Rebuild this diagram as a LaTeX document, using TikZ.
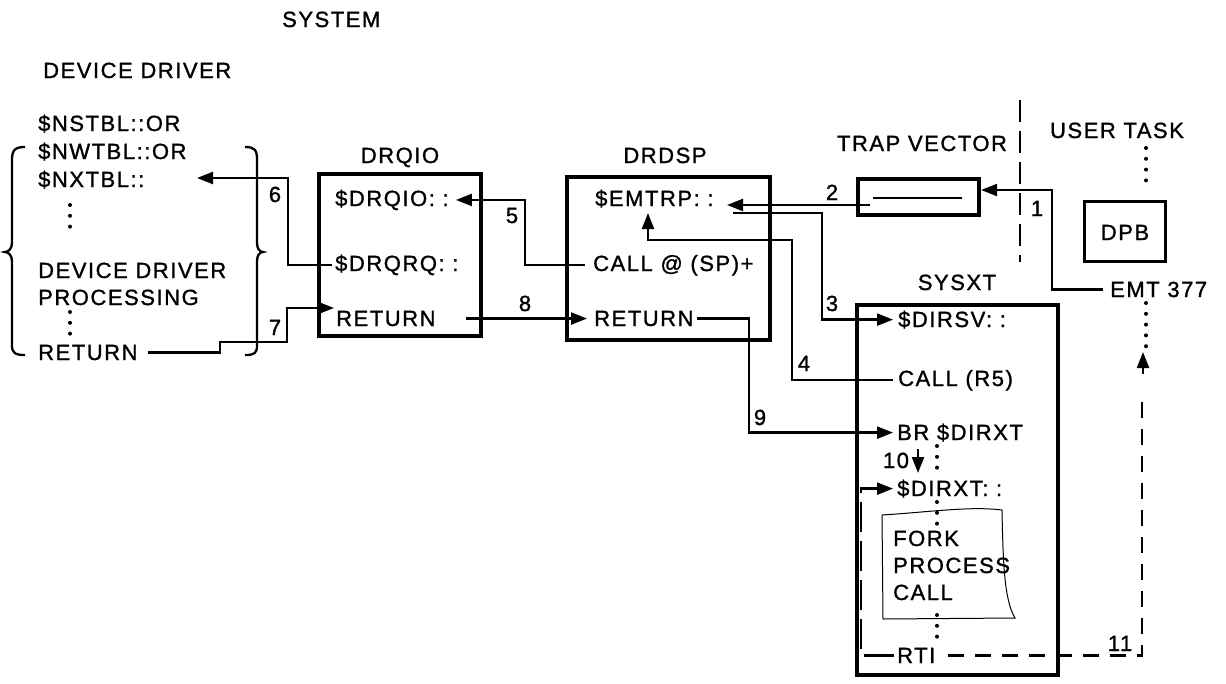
\documentclass[tikz,border=0pt]{standalone}
\usepackage{fontspec}
\setmainfont{Liberation Sans}[LetterSpace=7, FakeBold=1.2]
\usetikzlibrary{arrows.meta}
\begin{document}
\begin{tikzpicture}[x=1pt,y=-1pt,
  every node/.append style={font=\fontsize{22}{26}\selectfont, inner sep=0pt},
  txt/.style={anchor=base west},
  lbl/.style={anchor=base},
  box/.style={draw, line width=3.8pt},
  con/.style={line width=2.3pt},
  arr/.style={con, -{Triangle[length=16pt,width=12pt]}},
  dots/.style={line width=4pt, line cap=round, dash pattern=on 0pt off 10.8pt},
  bound/.style={line width=2.5pt, dash pattern=on 22pt off 9pt},
  dash11/.style={line width=2.3pt, dash pattern=on 16pt off 11pt},
  dashloop/.style={line width=2.3pt, dash pattern=on 30pt off 9pt},
]
\useasboundingbox (0,0) rectangle (1226,683);

% titles
\node[txt] (system) at (282,27) {SYSTEM};
\node[txt] (ddtitle) at (43,78) {DEVICE DRIVER};

% device driver column
\node[txt] (nstbl) at (38,131) {\$NSTBL::OR};
\node[txt] (nwtbl) at (38,159) {\$NWTBL::OR};
\node[txt] (nxtbl) at (38,187) {\$NXTBL::};
\node[txt] (ddp1) at (38,278) {DEVICE DRIVER};
\node[txt] (ddp2) at (38,305) {PROCESSING};
\node[txt] (ret1) at (38,360) {RETURN};
\draw[dots] (70,205) -- (70,237);
\draw[dots] (70,312) -- (70,334);
% braces
\draw[con] (25,147) .. controls (15,147) and (12,150) .. (12,160) -- (12,243)
  .. controls (12,249) and (8,252) .. (5,252) .. controls (8,252) and (12,255) .. (12,261)
  -- (12,345) .. controls (12,353) and (15,355) .. (25,355);
\draw[con] (245,147) .. controls (255,147) and (257,150) .. (257,160) -- (257,243)
  .. controls (257,249) and (260,252) .. (263,252) .. controls (260,252) and (257,255) .. (257,261)
  -- (257,345) .. controls (257,353) and (255,355) .. (245,355);

% DRQIO
\node[box, minimum width=162.5pt, minimum height=162.5pt] (drqiobox) at (400,255) {};
\node[lbl] (drqiolbl) at (400,163) {DRQIO};
\node[txt] (drqio) at (335,206) {\$DRQIO: :};
\node[txt] (drqrq) at (335,271) {\$DRQRQ: :};
\node[txt] (ret2) at (336,326) {RETURN};

% DRDSP
\node[box, minimum width=203.5pt, minimum height=163.5pt] (drdspbox) at (668.5,258.5) {};
\node[lbl] (drdsplbl) at (665,163) {DRDSP};
\node[txt] (emtrp) at (595,206) {\$EMTRP: :};
\node[txt] (callsp) at (593,271) {CALL @ (SP)+};
\node[txt] (ret3) at (594,326) {RETURN};

% TRAP VECTOR
\node[lbl] (traplbl) at (922,151) {TRAP VECTOR};
\node[box, minimum width=121.5pt, minimum height=36.5pt] (trap) at (918.5,197) {};
\draw[line width=2.5pt] (873,198) -- (962,198);

% boundary
\draw[bound] (1020,100) -- (1020,262);

% USER TASK
\node[lbl] (usertask) at (1117,138) {USER TASK};
\draw[dots] (1146,148) -- (1146,190);
\node[draw, line width=3.2pt, minimum width=81pt, minimum height=60pt] (dpbbox) at (1125,231.5) {};
\node[lbl] (dpb) at (1125,240) {DPB};
\node[txt] (emt) at (1110,297) {EMT~377};
\draw[dots] (1146,303) -- (1146,347);

% SYSXT
\node[lbl] (sysxtlbl) at (957,290) {SYSXT};
\node[box, minimum width=201.5pt, minimum height=370.5pt] (sysxt) at (957.5,490) {};
\node[txt] (dirsv) at (898,327) {\$DIRSV: :};
\node[txt] (callr5) at (898,386) {CALL (R5)};
\node[txt] (brdirxt) at (897,440) {BR \$DIRXT};
\node[lbl] (l10) at (896,468) {10};
\node[txt] (dirxt) at (897,496) {\$DIRXT: :};
\node[txt] (fork1) at (893,546) {FORK};
\node[txt] (fork2) at (893,573) {PROCESS};
\node[txt] (fork3) at (893,600) {CALL};
\node[txt] (rti) at (897,663) {RTI};
\draw[dots] (937,446) -- (937,468);
\draw[dots] (937,502) -- (937,524);
\draw[dots] (937,615) -- (937,637);
\draw[line width=1pt] (882,515) .. controls (930,512) and (970,506) .. (1002,510)
  .. controls (1003,560) and (1004,600) .. (1015,618) -- (883,619) -- cycle;

% coordinates for free ends and bends
\coordinate (b1) at (1052,190);
\coordinate (s2) at (870,205);
\coordinate (t2) at (727,205);
\coordinate (s3) at (733,213);
\coordinate (b3) at (822,260);
\coordinate (b4) at (792,240);
\coordinate (t4) at (648,213);
\coordinate (b5) at (525,230);
\coordinate (b6) at (288,220);
\coordinate (t6) at (197,178);
\coordinate (b7a) at (220,342);
\coordinate (b7b) at (287,308);
\coordinate (t7) at (334,308);
\coordinate (b9) at (749,380);
\coordinate (s10) at (918,449);
\coordinate (t10) at (918,473);
\coordinate (c11) at (1142,392);
\coordinate (s11) at (1143,374);
\coordinate (t11) at (1143,352);
\coordinate (bl) at (861,560);

% connectors
\draw[arr] ([xshift=-7pt]emt.west) -| (b1) -- (trap.east |- b1);
\node[lbl] (l1) at (1037,216) {1};
\draw[arr] (s2) -- (t2);
\node[lbl] (l2) at (832,200) {2};
\draw[arr] (s3) -| (b3) |- ([xshift=-5pt]dirsv.west);
\node[lbl] (l3) at (832,311) {3};
\draw[arr] ([xshift=-5pt]callr5.west) -| (b4) -| (t4);
\node[lbl] (l4) at (804,371) {4};
\draw[arr] ([xshift=-8pt]callsp.west) -| (b5) |- ([xshift=7pt]drqio.east);
\node[lbl] (l5) at (512,223) {5};
\draw[arr] ([xshift=-3pt]drqrq.west) -| (b6) |- (t6);
\node[lbl] (l6) at (275,202) {6};
\draw[arr] ([xshift=10pt]ret1.east) -| (b7a) -| (b7b) -- (t7);
\node[lbl] (l7) at (275,335) {7};
\draw[arr] ([xshift=30pt]ret2.east) -- ([xshift=-7pt]ret3.west);
\node[lbl] (l8) at (525,311) {8};
\draw[arr] ([xshift=3pt]ret3.east) -| (b9) |- ([xshift=-4pt]brdirxt.west);
\node[lbl] (l9) at (760,425) {9};
\draw[arr] (s10) -- (t10);
\draw[dash11] ([xshift=12pt]rti.east) -| (c11);
\draw[arr] (s11) -- (t11);
\node[lbl] (l11) at (1120,651) {11};
\draw[dashloop, arr] ([xshift=-3pt]rti.west) -| (bl) |- ([xshift=-4pt]dirxt.west);
\end{tikzpicture}
\end{document}
